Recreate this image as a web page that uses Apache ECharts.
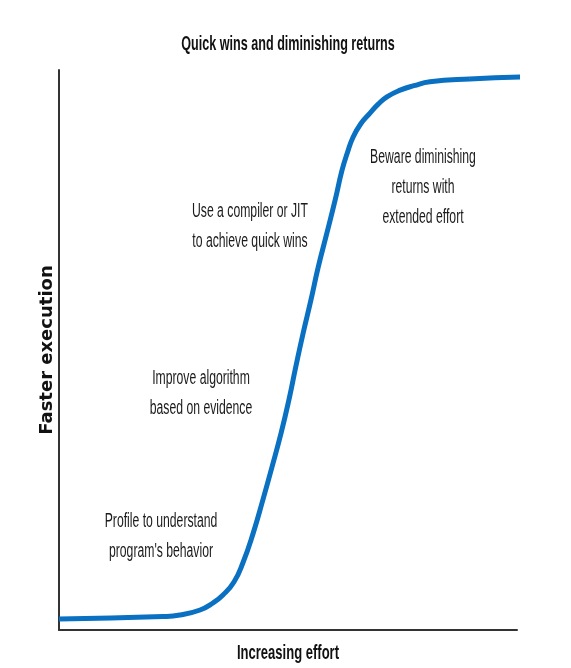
<!DOCTYPE html>
<html>
<head>
<meta charset="utf-8">
<script src="https://cdn.jsdelivr.net/npm/echarts@6/dist/echarts.min.js"></script>
<style>html,body{margin:0;padding:0;background:#fff}#c{width:571px;height:668px}</style>
</head>
<body>
<div id="c"></div>
<script>
const effort = [0, 22.7, 26.4, 30.8, 33.6, 35.8, 38.2, 40.2, 42.4, 44.5, 46.5, 48.5, 50.2, 51.7, 53.3, 55.0, 56.6, 58.5, 60.3, 61.8, 63.0, 64.2, 65.9, 67.9, 69.7, 71.6, 74.5, 77.5, 81.0, 89.7, 101.1];
const speed  = [1.96, 2.41, 2.68, 3.57, 4.82, 6.25, 8.57, 12.1, 17.3, 23.2, 29.1, 35.2, 41.1, 47.0, 53.0, 58.9, 64.8, 70.9, 76.8, 82.1, 85.3, 88.0, 90.4, 92.3, 93.9, 95.2, 96.4, 97.2, 97.9, 98.4, 98.75];
const titleText = 'Quick wins and diminishing returns';
const xName = 'Increasing effort';
const yName = 'Faster execution';
const noteTexts = [
  'Beware diminishing\nreturns with\nextended effort',
  'Use a compiler or JIT\nto achieve quick wins',
  'Improve algorithm\nbased on evidence',
  "Profile to understand\nprogram's behavior"
];
const noteCenters = [[423, 142], [250, 196], [201, 363], [161, 506]];
const font = '"Liberation Sans", Arial, sans-serif';
const chart = echarts.init(document.getElementById('c'));
const graphics = noteTexts.map((t, i) => ({type: 'text', x: noteCenters[i][0], y: noteCenters[i][1], scaleX: 0.61,
  style: {text: t, fontFamily: font, fontSize: 20, lineHeight: 30, fill: '#1a1a1a', align: 'center', verticalAlign: 'top'}}));
graphics.push({type: 'text', x: 288, y: 44, scaleX: 0.6,
  style: {text: titleText, fontFamily: font, fontWeight: 'bold', fontSize: 21, fill: '#111', align: 'center', verticalAlign: 'middle'}});
graphics.push({type: 'text', x: 288, y: 653, scaleX: 0.62,
  style: {text: xName, fontFamily: font, fontWeight: 'bold', fontSize: 21, fill: '#111', align: 'center', verticalAlign: 'middle'}});
chart.setOption({
  animation: false,
  grid: {left: 59, right: 54, top: 70, bottom: 38},
  xAxis: {type: 'value', min: 0, max: 100,
    axisLine: {lineStyle: {color: '#333', width: 2}}, axisTick: {show: false},
    axisLabel: {show: false}, splitLine: {show: false}},
  yAxis: {type: 'value', min: 0, max: 100, name: yName, nameLocation: 'middle', nameGap: 3,
    nameTextStyle: {fontFamily: '"DejaVu Sans", Verdana, sans-serif', fontWeight: 'bold', fontSize: 18, color: '#111'},
    axisLine: {show: true, lineStyle: {color: '#333', width: 2}}, axisTick: {show: false},
    axisLabel: {show: false}, splitLine: {show: false}},
  series: [{type: 'line', data: effort.map((e, i) => [e, speed[i]]), smooth: 0.5, showSymbol: false,
    clip: false, lineStyle: {color: '#0a70c2', width: 5}}],
  graphic: graphics
});
</script>
</body>
</html>
